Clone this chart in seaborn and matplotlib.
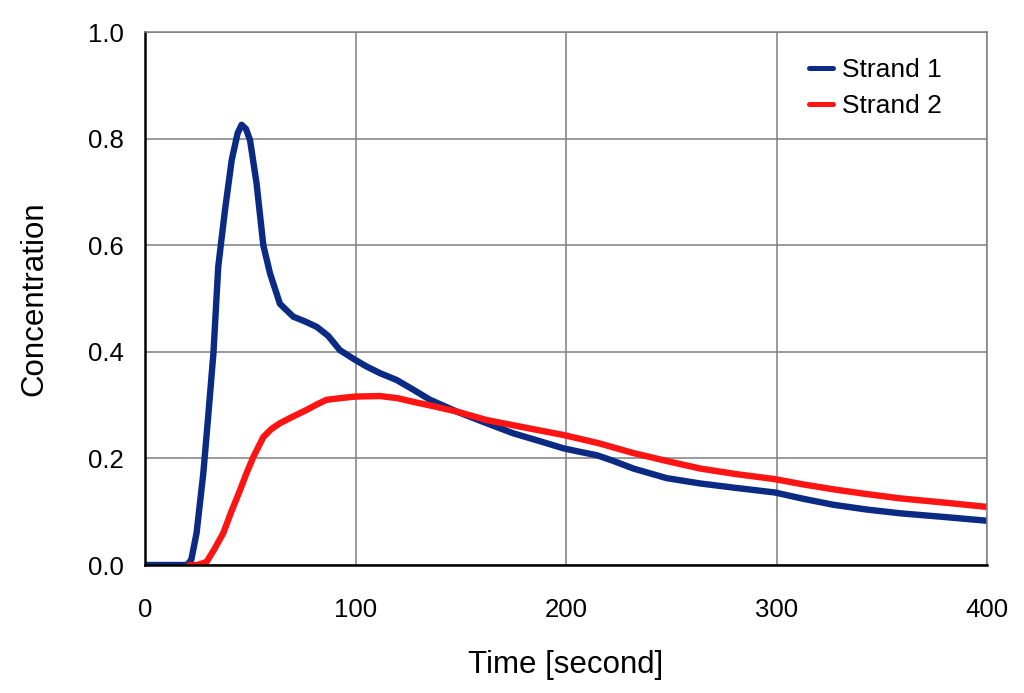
import matplotlib

matplotlib.use("Agg")
import matplotlib.pyplot as plt
import pandas as pd
import seaborn as sns

# Strand 1 (blue)
strand1_time = [0, 20, 22, 24.5, 27.7, 30, 32.5, 34.8, 38, 41.2, 44, 45.9, 48,
                49.9, 53, 56.2, 59.4, 64.1, 70.4, 76, 81.5, 87, 92.6, 99.8, 105,
                111.6, 119.6, 127, 135.4, 148, 162.3, 175, 187, 198.7, 207,
                214.6, 222, 232, 247.8, 263.7, 280, 299.3, 313, 327, 343, 358.7,
                380, 400]
strand1_conc = [0, 0, 0.01, 0.06, 0.172, 0.278, 0.397, 0.56, 0.666, 0.76, 0.81,
                0.826, 0.818, 0.797, 0.716, 0.60, 0.547, 0.49, 0.466, 0.457,
                0.447, 0.43, 0.403, 0.385, 0.373, 0.36, 0.347, 0.33, 0.31,
                0.288, 0.266, 0.247, 0.233, 0.219, 0.212, 0.206, 0.196, 0.181,
                0.163, 0.153, 0.145, 0.136, 0.124, 0.113, 0.104, 0.097, 0.09,
                0.083]

# Strand 2 (red)
strand2_time = [21, 25, 29.3, 33, 37.2, 41, 45.1, 48, 51.5, 56.2, 60, 64.1, 70,
                76.8, 82, 86.3, 92.6, 99.8, 111.6, 120, 127.5, 137, 148, 162.3,
                182.9, 198.7, 216, 232, 248, 263.7, 280, 299.3, 313, 327, 343,
                358.7, 380, 400]
strand2_conc = [0, 0, 0.006, 0.03, 0.06, 0.1, 0.14, 0.17, 0.203, 0.24, 0.255,
                0.266, 0.278, 0.291, 0.302, 0.31, 0.313, 0.316, 0.317, 0.313,
                0.306, 0.298, 0.288, 0.272, 0.256, 0.244, 0.228, 0.21, 0.195,
                0.181, 0.171, 0.161, 0.151, 0.142, 0.133, 0.125, 0.117, 0.109]

x_ticks = [0, 100, 200, 300, 400]
y_ticks = [0.0, 0.2, 0.4, 0.6, 0.8, 1.0]

data = pd.concat(
    [
        pd.DataFrame({"time": strand1_time, "conc": strand1_conc, "strand": "Strand 1"}),
        pd.DataFrame({"time": strand2_time, "conc": strand2_conc, "strand": "Strand 2"}),
    ],
    ignore_index=True,
)

sns.set_theme(style="white")
plt.rcParams["font.family"] = ["Liberation Sans", "DejaVu Sans"]
plt.rcParams["text.color"] = "black"
plt.rcParams["axes.labelcolor"] = "black"

figure = plt.figure(figsize=(10.24, 6.93), dpi=100)
axis = figure.add_axes([0.1416, 0.1847, 0.8223, 0.7691])

sns.lineplot(
    data=data,
    x="time",
    y="conc",
    hue="strand",
    palette={"Strand 1": "#0b2a84", "Strand 2": "#ff1414"},
    linewidth=4.6,
    sort=False,
    ax=axis,
)
for line in axis.lines:
    line.set_solid_joinstyle("round")
    line.set_solid_capstyle("round")

axis.set_xlim(0, 400)
axis.set_ylim(0, 1.0)
axis.set_xticks(x_ticks)
axis.set_yticks(y_ticks)
axis.set_yticklabels([f"{v:.1f}" for v in y_ticks])
axis.grid(True, color="#7f7f7f", linewidth=1.1)
axis.set_axisbelow(True)
for side in ("left", "bottom"):
    axis.spines[side].set_color("black")
    axis.spines[side].set_linewidth(1.8)
for side in ("top", "right"):
    axis.spines[side].set_color("#7f7f7f")
    axis.spines[side].set_linewidth(1.1)
axis.tick_params(axis="both", labelsize=18.5, colors="black", direction="out",
                 length=6, width=1.2)
axis.tick_params(axis="y", pad=9)
axis.tick_params(axis="x", pad=18)
axis.set_xlabel("Time [second]", fontsize=22.5, labelpad=20)
axis.set_ylabel("Concentration", fontsize=22.5, labelpad=28)

legend = axis.legend(
    loc="upper right",
    frameon=False,
    fontsize=19,
    handlelength=0.9,
    handletextpad=0.35,
    labelspacing=0.45,
    bbox_to_anchor=(0.975, 0.995),
)
for handle in legend.get_lines():
    handle.set_linewidth(3.6)

figure.savefig("out.png", dpi=100)
plt.close(figure)
